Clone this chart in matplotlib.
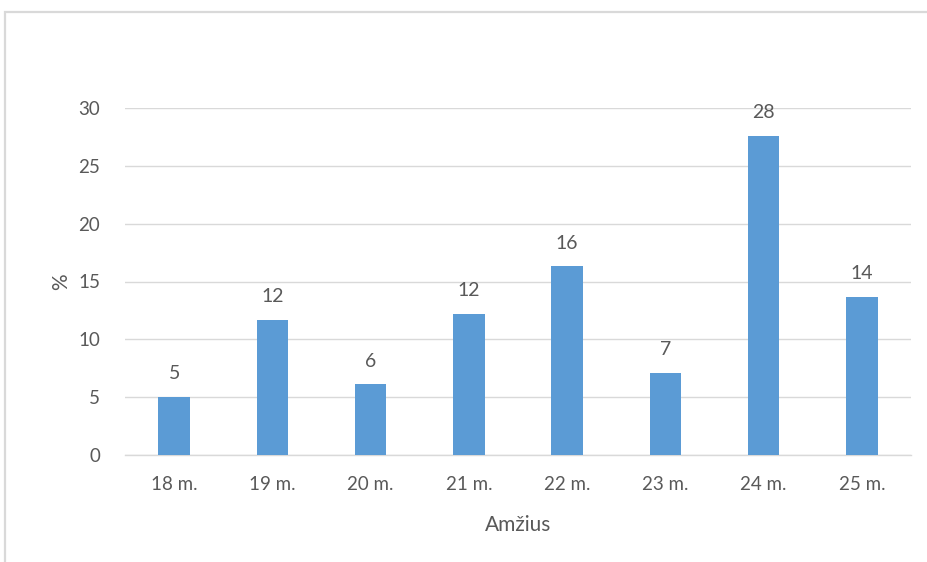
import matplotlib
matplotlib.use("Agg")
import matplotlib.pyplot as plt
from matplotlib.patches import Rectangle

categories = ["18 m.", "19 m.", "20 m.", "21 m.", "22 m.", "23 m.", "24 m.", "25 m."]
values = [5.05, 11.7, 6.1, 12.2, 16.3, 7.1, 27.6, 13.7]
yticks = [0, 5, 10, 15, 20, 25, 30]

plt.rcParams["font.family"] = ["Lato", "DejaVu Sans"]
text_color = "#595959"
grid_color = "#d9d9d9"
bar_color = "#5b9bd5"

W, H = 928, 562
fig = plt.figure(figsize=(W / 100, H / 100), dpi=100)
fig.patch.set_facecolor("white")

# outer chart frame (open to the right and bottom)
fig.patches.append(Rectangle((4.5 / W, -0.2), 2.0, 1.2 - 11.5 / H,
                             transform=fig.transFigure, fill=False,
                             edgecolor=grid_color, linewidth=1.6))

ax = fig.add_axes([125 / W, 1 - 455 / H, (911 - 125) / W, (455 - 108) / H])
x = list(range(len(categories)))
ax.bar(x, values, width=0.32, color=bar_color, zorder=3)

for xi, v in zip(x, values):
    ax.annotate(f"{v:.0f}", (xi, v), xytext=(0, 10.5), textcoords="offset points",
                ha="center", va="bottom", fontsize=14, color=text_color)

ax.set_xlim(-0.5, len(categories) - 0.5)
ax.set_ylim(0, 30)
ax.set_yticks(yticks)
ax.set_xticks(x)
ax.set_xticklabels(categories)
ax.tick_params(axis="both", length=0, labelsize=13.5, labelcolor=text_color)
ax.tick_params(axis="x", pad=15)
ax.tick_params(axis="y", pad=18)
ax.grid(axis="y", color=grid_color, linewidth=1.0, zorder=0)
for side in ["top", "right", "left"]:
    ax.spines[side].set_visible(False)
ax.spines["bottom"].set_color(grid_color)
ax.spines["bottom"].set_linewidth(1.0)

ax.set_xlabel("Amžius", fontsize=15, color=text_color, labelpad=16)
ax.set_ylabel("%", fontsize=15, color=text_color, labelpad=5)

fig.savefig("out.png", dpi=100, facecolor="white")
